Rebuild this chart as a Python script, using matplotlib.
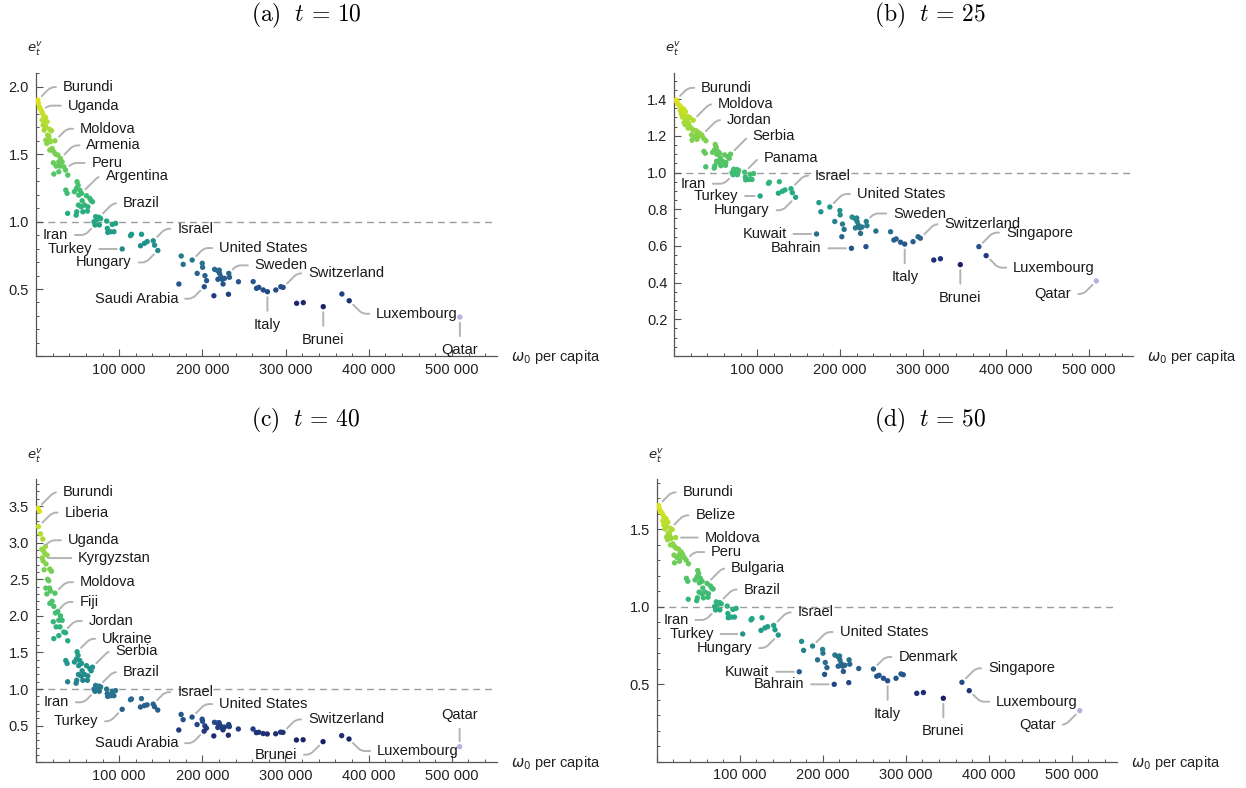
import matplotlib
matplotlib.use('Agg')
import matplotlib.pyplot as plt
from matplotlib.colors import LinearSegmentedColormap, Normalize
from matplotlib.ticker import MultipleLocator, FuncFormatter
import numpy as np

plt.rcParams['font.family'] = ['Liberation Sans', 'DejaVu Sans']
plt.rcParams['mathtext.fontset'] = 'dejavusans'

# omega_0 per capita, same countries in every panel
omega0 = [
    2200, 3000, 4200, 5400, 7000, 8200, 11400, 9400, 7400, 10600,
    13400, 8600, 12000, 9800, 16600, 18600, 14000, 15400, 11800, 16200,
    13000, 17400, 22800, 19400, 16600, 21400, 23400, 26200, 29400, 20800,
    27400, 31400, 24200, 28800, 33400, 35500, 21400, 27400, 38200,
    35800, 37400, 49400, 50600, 48600, 52600, 46200, 54700, 51400, 60700,
    64700, 66300, 55500, 51000, 54300, 58300, 62300, 67900, 49000, 56300,
    61800, 38000, 48200,
    71700, 75700, 77700, 73700, 69700, 70900, 76100, 84900, 91700, 95700,
    85700, 86200, 89700, 93700,
    103600, 113600, 114800, 126800, 125600, 130400, 133600, 140900, 142500, 146400,
    171700, 174500, 176900, 187700, 193700, 199800, 200200, 203000, 205000, 202200,
    213800, 214600, 218200, 220200, 220600, 222200, 218600, 223800, 226600, 224800,
    231700, 232500, 231300, 243300,
    261000, 265000, 267800, 273100, 278100, 288200, 294200, 297000, 313200, 321200,
    345200, 367600, 376400, 509400]

# index -> country name for the points that carry a callout
country = {0: 'Burundi', 1: 'Liberia', 4: 'Uganda', 8: 'Kyrgyzstan', 14: 'Belize',
           22: 'Moldova', 26: 'Fiji', 28: 'Armenia', 34: 'Jordan', 35: 'Peru',
           41: 'Ukraine', 46: 'Argentina', 48: 'Bulgaria', 56: 'Serbia', 63: 'Brazil',
           67: 'Iran', 69: 'Panama', 76: 'Turkey', 83: 'Israel', 85: 'Hungary',
           86: 'Kuwait', 89: 'United States', 95: 'Saudi Arabia', 96: 'Bahrain',
           106: 'Sweden', 110: 'Denmark', 114: 'Italy', 117: 'Switzerland',
           120: 'Brunei', 121: 'Singapore', 122: 'Luxembourg', 123: 'Qatar'}

ev_t10 = [
    1.902, 1.877, 1.848, 1.835, 1.816, 1.798, 1.774, 1.766, 1.754, 1.749,
    1.741, 1.716, 1.704, 1.679, 1.684, 1.674, 1.642, 1.635, 1.605, 1.605,
    1.580, 1.593, 1.600, 1.543, 1.531, 1.518, 1.501, 1.494, 1.469, 1.437,
    1.444, 1.444, 1.412, 1.412, 1.407, 1.383, 1.353, 1.370, 1.345,
    1.234, 1.210, 1.296, 1.271, 1.246, 1.234, 1.222, 1.210, 1.197, 1.192,
    1.172, 1.155, 1.155, 1.123, 1.110, 1.123, 1.110, 1.148, 1.073, 1.073,
    1.078, 1.061, 1.048,
    1.037, 1.032, 1.022, 1.017, 0.999, 0.975, 0.975, 1.004, 0.979, 0.987,
    0.950, 0.920, 0.925, 0.925,
    0.797, 0.896, 0.906, 0.906, 0.821, 0.839, 0.852, 0.858, 0.825, 0.786,
    0.537, 0.745, 0.683, 0.715, 0.616, 0.691, 0.661, 0.599, 0.562, 0.517,
    0.450, 0.646, 0.636, 0.640, 0.616, 0.591, 0.572, 0.572, 0.579, 0.537,
    0.616, 0.587, 0.461, 0.554,
    0.555, 0.505, 0.512, 0.493, 0.480, 0.493, 0.517, 0.512, 0.394, 0.399,
    0.369, 0.463, 0.413, 0.292]

ev_t25 = [
    1.396, 1.386, 1.374, 1.369, 1.361, 1.354, 1.345, 1.341, 1.337, 1.335,
    1.331, 1.318, 1.312, 1.302, 1.304, 1.300, 1.287, 1.284, 1.272, 1.272,
    1.262, 1.267, 1.285, 1.247, 1.242, 1.237, 1.230, 1.228, 1.218, 1.205,
    1.208, 1.208, 1.195, 1.195, 1.204, 1.185, 1.176, 1.181, 1.173,
    1.115, 1.105, 1.153, 1.138, 1.123, 1.115, 1.110, 1.105, 1.099, 1.096,
    1.086, 1.078, 1.078, 1.062, 1.055, 1.062, 1.055, 1.100, 1.037, 1.037,
    1.039, 1.031, 1.024,
    1.018, 1.016, 1.011, 1.009, 1.000, 0.988, 0.988, 1.002, 0.990, 0.994,
    0.975, 0.960, 0.962, 0.962,
    0.872, 0.941, 0.947, 0.950, 0.887, 0.898, 0.905, 0.912, 0.890, 0.865,
    0.665, 0.836, 0.786, 0.812, 0.733, 0.793, 0.769, 0.719, 0.690, 0.650,
    0.587, 0.757, 0.749, 0.752, 0.733, 0.713, 0.698, 0.698, 0.703, 0.668,
    0.733, 0.710, 0.596, 0.681,
    0.677, 0.632, 0.638, 0.620, 0.610, 0.623, 0.650, 0.642, 0.523, 0.530,
    0.498, 0.596, 0.547, 0.409]

ev_t40 = [
    3.47, 3.22, 3.43, 3.12, 2.91, 3.05, 2.95, 2.88, 2.79, 2.85,
    2.83, 2.75, 2.71, 2.63, 2.64, 2.61, 2.50, 2.48, 2.38, 2.38,
    2.30, 2.34, 2.31, 2.20, 2.17, 2.13, 2.04, 2.06, 2.00, 1.92,
    1.94, 1.94, 1.85, 1.85, 1.78, 1.77, 1.69, 1.73, 1.66,
    1.39, 1.35, 1.51, 1.46, 1.41, 1.39, 1.37, 1.35, 1.32, 1.32,
    1.28, 1.25, 1.25, 1.20, 1.18, 1.20, 1.18, 1.30, 1.12, 1.12,
    1.12, 1.10, 1.08,
    1.05, 1.04, 1.03, 1.02, 1.00, 0.97, 0.97, 1.00, 0.97, 0.98,
    0.94, 0.90, 0.91, 0.91,
    0.724, 0.855, 0.865, 0.870, 0.755, 0.775, 0.785, 0.795, 0.760, 0.714,
    0.441, 0.654, 0.583, 0.618, 0.516, 0.589, 0.561, 0.499, 0.466, 0.425,
    0.360, 0.546, 0.537, 0.541, 0.516, 0.492, 0.475, 0.475, 0.481, 0.443,
    0.516, 0.488, 0.370, 0.455,
    0.455, 0.405, 0.410, 0.393, 0.387, 0.390, 0.412, 0.408, 0.305, 0.308,
    0.282, 0.364, 0.318, 0.213]

ev_t50 = [
    1.653, 1.636, 1.617, 1.608, 1.596, 1.584, 1.567, 1.561, 1.553, 1.549,
    1.544, 1.526, 1.518, 1.500, 1.504, 1.497, 1.474, 1.470, 1.449, 1.449,
    1.431, 1.440, 1.445, 1.405, 1.397, 1.388, 1.376, 1.371, 1.353, 1.332,
    1.336, 1.336, 1.317, 1.317, 1.314, 1.300, 1.282, 1.292, 1.276,
    1.182, 1.163, 1.232, 1.212, 1.192, 1.182, 1.172, 1.163, 1.153, 1.149,
    1.133, 1.119, 1.119, 1.093, 1.083, 1.093, 1.083, 1.113, 1.056, 1.056,
    1.060, 1.047, 1.038,
    1.030, 1.026, 1.018, 1.014, 1.000, 0.978, 0.978, 1.003, 0.981, 0.988,
    0.955, 0.928, 0.932, 0.932,
    0.823, 0.914, 0.922, 0.928, 0.846, 0.862, 0.870, 0.878, 0.850, 0.816,
    0.579, 0.775, 0.717, 0.745, 0.656, 0.723, 0.699, 0.639, 0.606, 0.562,
    0.498, 0.687, 0.677, 0.681, 0.656, 0.632, 0.615, 0.615, 0.621, 0.581,
    0.656, 0.628, 0.509, 0.600,
    0.597, 0.550, 0.556, 0.537, 0.521, 0.537, 0.565, 0.560, 0.440, 0.445,
    0.408, 0.511, 0.457, 0.328]

# callout text offsets in pixels from the point (layout only)
callouts_t10 = {
    'Burundi': (25, 13), 'Uganda': (26, 6), 'Moldova': (25, 12), 'Armenia': (26, 13),
    'Peru': (26, 7), 'Argentina': (24, 17), 'Brazil': (24, 14), 'Iran': (-27, -10),
    'Turkey': (-30, 0), 'Hungary': (-26, -12), 'Israel': (24, 12),
    'United States': (27, 12), 'Sweden': (26, 8), 'Switzerland': (25, 14),
    'Saudi Arabia': (-26, -12), 'Italy': (0, -33), 'Brunei': (0, -33),
    'Luxembourg': (27, -13), 'Qatar': (0, -33)}
callouts_t25 = {
    'Burundi': (25, 12), 'Moldova': (25, 16), 'Jordan': (25, 15), 'Serbia': (22, 18),
    'Panama': (19, 14), 'Iran': (-27, -9), 'Turkey': (-22, 0), 'Hungary': (-26, -13),
    'Israel': (24, 13), 'United States': (27, 13), 'Sweden': (27, 8),
    'Switzerland': (24, 14), 'Singapore': (27, 14), 'Luxembourg': (27, -12),
    'Qatar': (-25, -13), 'Brunei': (0, -33), 'Italy': (0, -33),
    'Kuwait': (-30, 0), 'Bahrain': (-30, 0)}
callouts_t40 = {
    'Burundi': (25, 16), 'Liberia': (26, 14), 'Uganda': (26, 9), 'Kyrgyzstan': (36, 0),
    'Moldova': (25, 11), 'Fiji': (24, 11), 'Jordan': (25, 11), 'Ukraine': (25, 13),
    'Serbia': (23, 16), 'Brazil': (24, 14), 'Iran': (-26, -11), 'Turkey': (-24, -12),
    'Israel': (24, 12), 'United States': (27, 13), 'Switzerland': (25, 13),
    'Saudi Arabia': (-26, -12), 'Brunei': (-26, -13), 'Luxembourg': (28, -12),
    'Qatar': (0, 32)}
callouts_t50 = {
    'Burundi': (24, 13), 'Belize': (25, 13), 'Moldova': (29, 0), 'Peru': (25, 8),
    'Bulgaria': (24, 15), 'Brazil': (24, 13), 'Iran': (-27, -10), 'Turkey': (-29, 0),
    'Hungary': (-26, -13), 'Israel': (24, 13), 'United States': (27, 14),
    'Denmark': (25, 12), 'Kuwait': (-30, 0), 'Bahrain': (-30, 0), 'Italy': (0, -33),
    'Brunei': (0, -33), 'Singapore': (26, 14), 'Luxembourg': (27, -11),
    'Qatar': (-24, -14)}

cmap = LinearSegmentedColormap.from_list('bgy', [
    (0.00, '#1b2068'), (0.08, '#244a8a'), (0.18, '#2a6a8e'), (0.30, '#218f8c'),
    (0.42, '#22a884'), (0.55, '#3fbc73'), (0.68, '#62ca5e'), (0.80, '#8ed548'),
    (0.91, '#bcdf2a'), (1.00, '#e0e31e')]).with_extremes(under='#b3b3dd')


def callout(ax, name, x, y, dx, dy):
    ha = 'left' if dx > 0 else ('right' if dx < 0 else 'center')
    if dx == 0 or dy == 0:
        cs = 'arc3'
    else:
        cs = 'angle,angleA=0,angleB=%d,rad=4' % (45 if dx * dy > 0 else -45)
    ax.annotate(name, xy=(x, y), xytext=(dx, dy), textcoords='offset pixels',
                ha=ha, va='center', fontsize=10.5, color='#1a1a1a', zorder=4,
                arrowprops=dict(arrowstyle='-', color='#b3b3b3', lw=1.4,
                                shrinkA=3, shrinkB=4, connectionstyle=cs))


def draw_panel(rect, ev, callouts, ytop, ymajor, yminor, title, title_xy):
    ax = fig.add_axes(rect)
    x = np.asarray(omega0)
    y = np.asarray(ev)
    norm = Normalize(vmin=np.sort(y)[1], vmax=y.max())
    ax.axhline(1.0, color='#9c9c9c', lw=1.0, dashes=(5, 3.5), zorder=1)
    ax.scatter(x, y, c=y, cmap=cmap, norm=norm, s=15, linewidths=0, zorder=3)
    for i, name in country.items():
        if name in callouts:
            callout(ax, name, x[i], y[i], *callouts[name])

    ax.set_xlim(0, 554000)
    ax.set_ylim(0, ytop)
    for s in ['top', 'right']:
        ax.spines[s].set_visible(False)
    for s in ['left', 'bottom']:
        ax.spines[s].set_color('#555555')
        ax.spines[s].set_linewidth(0.9)
    ax.xaxis.set_major_locator(MultipleLocator(100000))
    ax.xaxis.set_minor_locator(MultipleLocator(20000))
    ax.yaxis.set_major_locator(MultipleLocator(ymajor))
    ax.yaxis.set_minor_locator(MultipleLocator(yminor))
    ax.xaxis.set_major_formatter(FuncFormatter(
        lambda v, p: '' if v == 0 else '{:,}'.format(int(round(v))).replace(',', ' ')))
    ax.yaxis.set_major_formatter(FuncFormatter(
        lambda v, p: '' if abs(v) < 1e-9 else '%.1f' % v))
    ax.tick_params(which='both', direction='in', color='#555555',
                   labelsize=10.5, labelcolor='#222222', pad=5)
    ax.tick_params(which='major', length=5, width=0.8)
    ax.tick_params(which='minor', length=2.5, width=0.7)

    ax.annotate(r'$\omega_0$ per capita', xy=(1, 0), xycoords='axes fraction',
                xytext=(14, -1), textcoords='offset pixels', ha='left', va='center',
                fontsize=10.5, color='#222222', annotation_clip=False)
    ax.annotate(r'$e_t^v$', xy=(0, 1), xycoords='axes fraction',
                xytext=(-1, 23), textcoords='offset pixels', ha='center', va='center',
                fontsize=9.5, color='#222222', annotation_clip=False)
    fig.text(title_xy[0] / 1246, 1 - title_xy[1] / 788, title, math_fontfamily='cm',
             fontsize=17, ha='center', va='center')
    return ax


fig = plt.figure(figsize=(12.46, 7.88), dpi=100)


def rect(left, right, top, bottom):
    return [left / 1246, 1 - bottom / 788, (right - left) / 1246, (bottom - top) / 788]


draw_panel(rect(36, 497, 72.7, 356.4), ev_t10, callouts_t10, 2.105, 0.5, 0.1,
           r'$\mathrm{(a)}\ \ t\,=\,10$', (306, 15))
draw_panel(rect(674.3, 1133.3, 72.7, 356), ev_t25, callouts_t25, 1.544, 0.2, 0.05,
           r'$\mathrm{(b)}\ \ t\,=\,25$', (930, 15))
draw_panel(rect(36, 496.7, 479.3, 762.3), ev_t40, callouts_t40, 3.866, 0.5, 0.1,
           r'$\mathrm{(c)}\ \ t\,=\,40$', (306, 420))
draw_panel(rect(656.7, 1116.7, 479.3, 761.5), ev_t50, callouts_t50, 1.821, 0.5, 0.1,
           r'$\mathrm{(d)}\ \ t\,=\,50$', (930, 420))

fig.savefig('out.png', dpi=100)
